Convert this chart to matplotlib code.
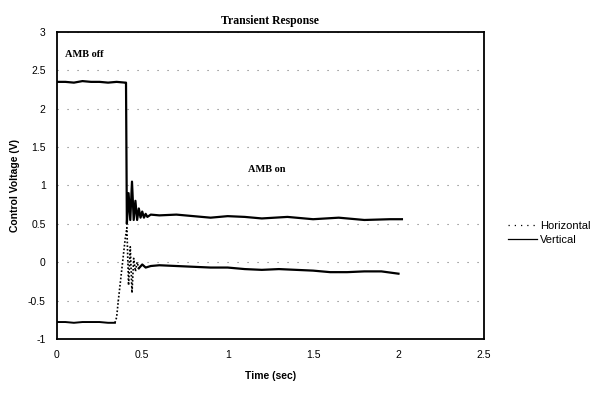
import matplotlib.pyplot as plt
from matplotlib.lines import Line2D
from matplotlib.ticker import FuncFormatter

# upper trace (AMB off -> on)
vert_t = [0.0, 0.05, 0.1, 0.15, 0.2, 0.25, 0.3, 0.35, 0.40, 0.405, 0.41, 0.42, 0.43, 0.44,
          0.45, 0.46, 0.47, 0.48, 0.49, 0.50, 0.51, 0.52, 0.53, 0.55, 0.6, 0.7, 0.8, 0.9,
          1.0, 1.1, 1.2, 1.35, 1.5, 1.65, 1.8, 1.95, 2.02]
vert_v = [2.35, 2.35, 2.34, 2.36, 2.35, 2.35, 2.34, 2.35, 2.34, 2.34, 0.5, 0.9, 0.55, 1.05,
          0.55, 0.8, 0.55, 0.7, 0.58, 0.66, 0.58, 0.63, 0.59, 0.62, 0.61, 0.62, 0.6, 0.58,
          0.6, 0.59, 0.57, 0.59, 0.56, 0.58, 0.55, 0.56, 0.56]

# lower trace
horiz_t = [0.0, 0.05, 0.1, 0.15, 0.2, 0.25, 0.3, 0.34, 0.35, 0.36, 0.37, 0.38, 0.39, 0.40,
           0.41, 0.42, 0.43, 0.44, 0.45, 0.46, 0.47, 0.48, 0.50, 0.52, 0.55, 0.6, 0.7, 0.8,
           0.9, 1.0, 1.1, 1.2, 1.3, 1.4, 1.5, 1.6, 1.7, 1.8, 1.9, 2.0]
horiz_v = [-0.78, -0.78, -0.79, -0.78, -0.78, -0.78, -0.79, -0.79, -0.72, -0.5, -0.3, -0.1, 0.1, 0.3,
           0.45, -0.3, 0.2, -0.4, 0.05, -0.12, 0.0, -0.08, -0.03, -0.07, -0.05, -0.04, -0.05, -0.06,
           -0.07, -0.07, -0.09, -0.1, -0.09, -0.1, -0.11, -0.13, -0.13, -0.12, -0.12, -0.15]

x_ticks = [0, 0.5, 1, 1.5, 2, 2.5]
y_ticks = [-1, -0.5, 0, 0.5, 1, 1.5, 2, 2.5, 3]

fig = plt.figure(figsize=(6.11, 3.95), dpi=100)
ax = fig.add_axes([0.093, 0.142, 0.699, 0.777])

ax.plot(vert_t, vert_v, color="black", lw=1.6)
# the rising edge of the lower trace is sparse/dotted in the scan, the settled part is solid
ax.plot(horiz_t[:8], horiz_v[:8], color="black", lw=1.4)
ax.plot(horiz_t[7:22], horiz_v[7:22], color="black", lw=1.2, linestyle=(0, (1, 1.2)))
ax.plot(horiz_t[21:], horiz_v[21:], color="black", lw=1.6)

ax.set_xlim(0, 2.5)
ax.set_ylim(-1, 3)
ax.set_xticks(x_ticks)
ax.set_yticks(y_ticks)
ax.xaxis.set_major_formatter(FuncFormatter(lambda v, p: "%g" % v))
ax.yaxis.set_major_formatter(FuncFormatter(lambda v, p: "%g" % v))
ax.tick_params(length=0, pad=8, labelsize=7.5)
for lab in ax.get_xticklabels() + ax.get_yticklabels():
    lab.set_fontfamily("Liberation Sans")
ax.grid(axis="y", color="#777777", lw=0.8, linestyle=(0, (1, 8)))
for s in ax.spines.values():
    s.set_linewidth(1.3)

ax.set_title("Transient Response", fontfamily="Liberation Serif", fontweight="bold",
             fontsize=8.5, pad=6)
ax.set_xlabel("Time (sec)", fontfamily="Liberation Sans", fontweight="bold", fontsize=7.5,
              labelpad=8)
ax.set_ylabel("Control Voltage (V)", fontfamily="Liberation Sans", fontweight="bold",
              fontsize=7.5, labelpad=6)

ax.text(0.05, 2.68, "AMB off", fontfamily="Liberation Serif", fontweight="bold", fontsize=7.5)
ax.text(1.12, 1.18, "AMB on", fontfamily="Liberation Serif", fontweight="bold", fontsize=7.5)

handles = [Line2D([], [], color="black", lw=0.9, linestyle=(0, (1, 4))),
           Line2D([], [], color="black", lw=0.9)]
fig.legend(handles, ["Horizontal", "Vertical"], loc="center left",
           bbox_to_anchor=(0.815, 0.41), frameon=False, handlelength=2.6,
           handletextpad=0.3, labelspacing=0.3,
           prop={"family": "Liberation Sans", "size": 8})

plt.savefig("out.png", dpi=100)
plt.close()
